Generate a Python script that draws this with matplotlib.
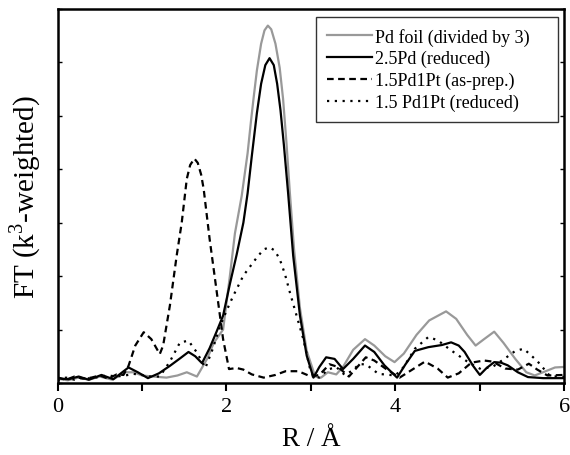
import matplotlib
matplotlib.use("Agg")
import matplotlib.pyplot as plt

plt.rcParams['font.family'] = ['Liberation Serif', 'DejaVu Serif']
plt.rcParams['mathtext.fontset'] = 'custom'
plt.rcParams['mathtext.rm'] = 'Liberation Serif'

# Pd foil (divided by 3)
r_foil = [0.0, 0.12, 0.25, 0.37, 0.5, 0.65, 0.8, 0.9, 1.0, 1.13, 1.29, 1.42, 1.53, 1.65, 1.77,
          1.85, 1.96, 2.04, 2.1, 2.18, 2.25, 2.29, 2.32, 2.36, 2.41, 2.45, 2.49, 2.53, 2.58,
          2.63, 2.67, 2.71, 2.75, 2.8, 2.87, 2.95, 3.05, 3.12, 3.2, 3.3, 3.38, 3.5, 3.64, 3.75,
          3.88, 3.99, 4.1, 4.25, 4.4, 4.6, 4.72, 4.85, 4.95, 5.05, 5.17, 5.28, 5.42, 5.55,
          5.65, 5.78, 5.89, 6.0]
ft_foil = [0.08, 0.05, 0.1, 0.06, 0.12, 0.06, 0.2, 0.2, 0.14, 0.12, 0.1, 0.14, 0.2, 0.12, 0.45,
           0.75, 1.0, 2.0, 2.8, 3.5, 4.3, 4.9, 5.32, 5.85, 6.35, 6.6, 6.69, 6.62, 6.35,
           5.9, 5.32, 4.5, 3.57, 2.5, 1.4, 0.6, 0.12, 0.1, 0.2, 0.16, 0.3, 0.62, 0.82, 0.7,
           0.5, 0.39, 0.55, 0.9, 1.17, 1.34, 1.2, 0.9, 0.7, 0.82, 0.96, 0.75, 0.45, 0.2,
           0.14, 0.22, 0.29, 0.3]

# 2.5Pd (reduced)
r_pd = [0.0, 0.05, 0.13, 0.25, 0.37, 0.52, 0.66, 0.75, 0.84, 0.95, 1.07, 1.2, 1.33, 1.45,
        1.55, 1.63, 1.71, 1.8, 1.88, 1.96, 2.04, 2.12, 2.2, 2.25, 2.3, 2.36, 2.41, 2.46, 2.51,
        2.56, 2.6, 2.64, 2.68, 2.73, 2.79, 2.87, 2.95, 3.03, 3.1, 3.18, 3.28, 3.38, 3.5, 3.64,
        3.75, 3.87, 4.02, 4.12, 4.23, 4.39, 4.55, 4.66, 4.75, 4.82, 4.92, 5.0, 5.08, 5.17,
        5.25, 5.33, 5.45, 5.57, 5.75, 6.0]
ft_pd = [0.1, 0.08, 0.07, 0.12, 0.06, 0.15, 0.07, 0.18, 0.29, 0.2, 0.09, 0.18, 0.32, 0.46,
         0.58, 0.5, 0.37, 0.65, 0.95, 1.26, 1.85, 2.4, 3.0, 3.55, 4.25, 5.05, 5.6, 5.95, 6.08,
         5.95, 5.6, 5.1, 4.45, 3.55, 2.38, 1.26, 0.51, 0.1, 0.3, 0.48, 0.45, 0.26, 0.45, 0.7,
         0.58, 0.33, 0.1, 0.35, 0.6, 0.67, 0.71, 0.76, 0.7, 0.58, 0.32, 0.15, 0.28, 0.39,
         0.38, 0.33, 0.2, 0.11, 0.09, 0.09]

# 1.5Pd1Pt (as-prep.)
r_asprep = [0.0, 0.1, 0.2, 0.3, 0.4, 0.5, 0.6, 0.7, 0.78, 0.84, 0.92, 1.02, 1.11, 1.21, 1.25,
            1.33, 1.41, 1.47, 1.53, 1.57, 1.62, 1.66, 1.7, 1.73, 1.8, 1.88, 1.96, 2.03, 2.12,
            2.2, 2.3, 2.44, 2.58, 2.7, 2.85, 3.0, 3.1, 3.22, 3.32, 3.45, 3.55, 3.65, 3.75, 3.9,
            4.05, 4.15, 4.35, 4.5, 4.62, 4.75, 4.9, 5.05, 5.15, 5.3, 5.45, 5.58, 5.68, 5.8, 6.0]
ft_asprep = [0.1, 0.06, 0.12, 0.08, 0.1, 0.14, 0.08, 0.16, 0.15, 0.32, 0.7, 0.95, 0.82, 0.54,
             0.7, 1.45, 2.38, 3.0, 3.82, 4.08, 4.2, 4.12, 3.9, 3.63, 2.7, 1.76, 0.82, 0.26,
             0.28, 0.25, 0.16, 0.1, 0.15, 0.22, 0.22, 0.12, 0.15, 0.35, 0.3, 0.12, 0.3, 0.48,
             0.42, 0.25, 0.1, 0.2, 0.4, 0.27, 0.1, 0.18, 0.38, 0.42, 0.4, 0.27, 0.25, 0.36,
             0.25, 0.14, 0.15]

# 1.5 Pd1Pt (reduced)
r_red = [0.0, 0.1, 0.2, 0.3, 0.4, 0.5, 0.6, 0.7, 0.8, 0.9, 1.0, 1.1, 1.21, 1.33, 1.45, 1.55,
         1.65, 1.75, 1.84, 1.92, 2.0, 2.08, 2.2, 2.36, 2.44, 2.51, 2.57, 2.63, 2.69, 2.75,
         2.83, 2.91, 2.99, 3.03, 3.1, 3.2, 3.3, 3.4, 3.49, 3.57, 3.65, 3.8, 4.0, 4.1, 4.23,
         4.39, 4.5, 4.66, 4.86, 5.01, 5.15, 5.29, 5.42, 5.52, 5.68, 5.83, 6.0]
ft_red = [0.05, 0.1, 0.06, 0.1, 0.08, 0.12, 0.14, 0.12, 0.14, 0.17, 0.15, 0.12, 0.12, 0.4,
          0.76, 0.79, 0.57, 0.28, 0.65, 1.05, 1.35, 1.63, 2.01, 2.35, 2.5, 2.54, 2.48, 2.32,
          2.05, 1.7, 1.26, 0.82, 0.26, 0.12, 0.1, 0.25, 0.3, 0.15, 0.23, 0.35, 0.35, 0.17,
          0.14, 0.3, 0.64, 0.86, 0.8, 0.61, 0.39, 0.26, 0.3, 0.45, 0.6, 0.64, 0.41, 0.13, 0.11]

fig = plt.figure(figsize=(5.7, 4.56), dpi=100)
ax = fig.add_axes([0.101, 0.158, 0.889, 0.82])

# trailing spaces widen the legend box to the right like the original
ax.plot(r_foil, ft_foil, color='#999999', lw=1.6, label='Pd foil (divided by 3)    ')
ax.plot(r_pd, ft_pd, color='black', lw=1.6, label='2.5Pd (reduced)')
ax.plot(r_asprep, ft_asprep, color='black', lw=1.6, dashes=(3, 2), label='1.5Pd1Pt (as-prep.)')
ax.plot(r_red, ft_red, color='black', lw=1.6, dashes=(1, 2.5), label='1.5 Pd1Pt (reduced)')

ax.set_xlim(0, 6)
ax.set_ylim(0, 7)
ax.set_xticks([0, 2, 4, 6])
ax.set_xticks([1, 3, 5], minor=True)
ax.set_yticks(range(8))
ax.set_yticklabels([])
ax.tick_params(axis='x', which='both', direction='out', length=6, width=1.5,
               labelsize=16, pad=4)
ax.tick_params(axis='y', direction='in', length=3, width=1, right=True)
for s in ax.spines.values():
    s.set_linewidth(1.8)

ax.set_xlabel('R / Å', fontsize=19.5, labelpad=7)
ax.set_ylabel(r'FT (k$^\mathregular{3}$-weighted)', fontsize=21, labelpad=7)

leg = ax.legend(loc='upper right', bbox_to_anchor=(0.988, 0.979), fontsize=13,
                frameon=True, fancybox=False, edgecolor='black', handlelength=2.5,
                handletextpad=0.15, labelspacing=0.25, borderaxespad=0, borderpad=0.6)
leg.get_frame().set_linewidth(1.0)

fig.savefig('out.png', dpi=100)
